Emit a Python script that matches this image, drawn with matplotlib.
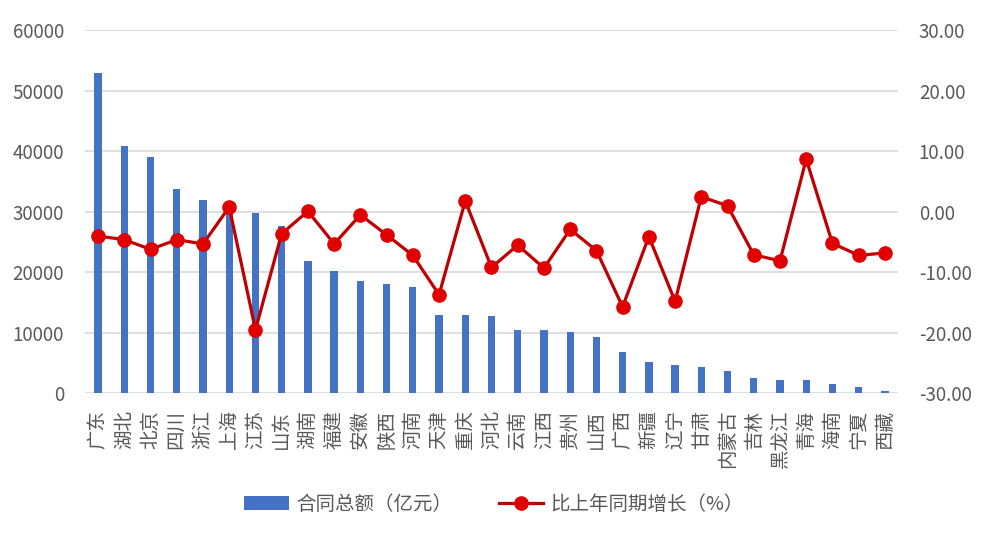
import matplotlib
matplotlib.use("Agg")
import matplotlib.pyplot as plt
import numpy as np

plt.rcParams["font.family"] = ["Noto Sans CJK SC", "DejaVu Sans"]
plt.rcParams["axes.unicode_minus"] = False

provinces = [
    "广东", "湖北", "北京", "四川", "浙江", "上海", "江苏", "山东", "湖南", "福建",
    "安徽", "陕西", "河南", "天津", "重庆", "河北", "云南", "江西", "贵州", "山西",
    "广西", "新疆", "辽宁", "甘肃", "内蒙古", "吉林", "黑龙江", "青海", "海南", "宁夏", "西藏",
]
contract_total = [
    53000, 40900, 39100, 33700, 32000, 30500, 29800, 27700, 21800, 20300,
    18500, 18100, 17500, 12900, 12900, 12700, 10400, 10400, 10100, 9300,
    6900, 5100, 4700, 4300, 3600, 2600, 2150, 2150, 1500, 1000, 400,
]
yoy_growth = [
    -4.0, -4.6, -6.2, -4.6, -5.3, 0.8, -19.5, -3.6, 0.1, -5.3,
    -0.5, -3.8, -7.2, -13.7, 1.8, -9.2, -5.5, -9.3, -2.9, -6.4,
    -15.7, -4.1, -14.8, 2.5, 1.0, -7.1, -8.1, 8.7, -5.2, -7.2, -6.8,
]

BAR_COLOR = "#4472C4"
LINE_COLOR = "#C00000"
MARKER_COLOR = "#E00000"
TEXT_COLOR = "#595959"
GRID_COLOR = "#D9D9D9"

fig = plt.figure(figsize=(10, 5.35), dpi=100)
ax1 = fig.add_axes([0.085, 0.265, 0.813, 0.678])
ax2 = ax1.twinx()

x = np.arange(len(provinces))
bars = ax1.bar(x, contract_total, width=0.28, color=BAR_COLOR, label="合同总额（亿元）", zorder=2)
line, = ax2.plot(x, yoy_growth, color=LINE_COLOR, linewidth=2.3, marker="o", markersize=9.5,
                 markerfacecolor=MARKER_COLOR, markeredgecolor=MARKER_COLOR,
                 label="比上年同期增长（%）", zorder=3)

ax1.set_xlim(-0.5, len(provinces) - 0.5)
ax1.set_ylim(0, 60000)
ax1.set_yticks(np.arange(0, 60001, 10000))
ax2.set_ylim(-30, 30)
ax2.set_yticks(np.arange(-30, 31, 10))
ax2.set_yticklabels([f"{v:.2f}" for v in np.arange(-30, 31, 10)])

ax1.grid(axis="y", color=GRID_COLOR, linewidth=1.2, zorder=0)
ax1.set_axisbelow(True)
for ax in (ax1, ax2):
    for spine in ax.spines.values():
        spine.set_visible(False)
ax1.tick_params(axis="y", length=0, pad=15, labelsize=13.5, labelcolor=TEXT_COLOR)
ax2.tick_params(axis="y", length=0, pad=15, labelsize=13.5, labelcolor=TEXT_COLOR)
ax1.set_xticks(x)
ax1.set_xticklabels(provinces, rotation=90, fontsize=14, color=TEXT_COLOR)
ax1.tick_params(axis="x", length=0, pad=12)

fig.legend(handles=[bars, line], loc="center", bbox_to_anchor=(0.494, 0.057), ncol=2,
           frameon=False, fontsize=14, labelcolor=TEXT_COLOR, handlelength=2.3,
           columnspacing=2.4, handletextpad=0.35)

fig.savefig("out.png", dpi=100)
